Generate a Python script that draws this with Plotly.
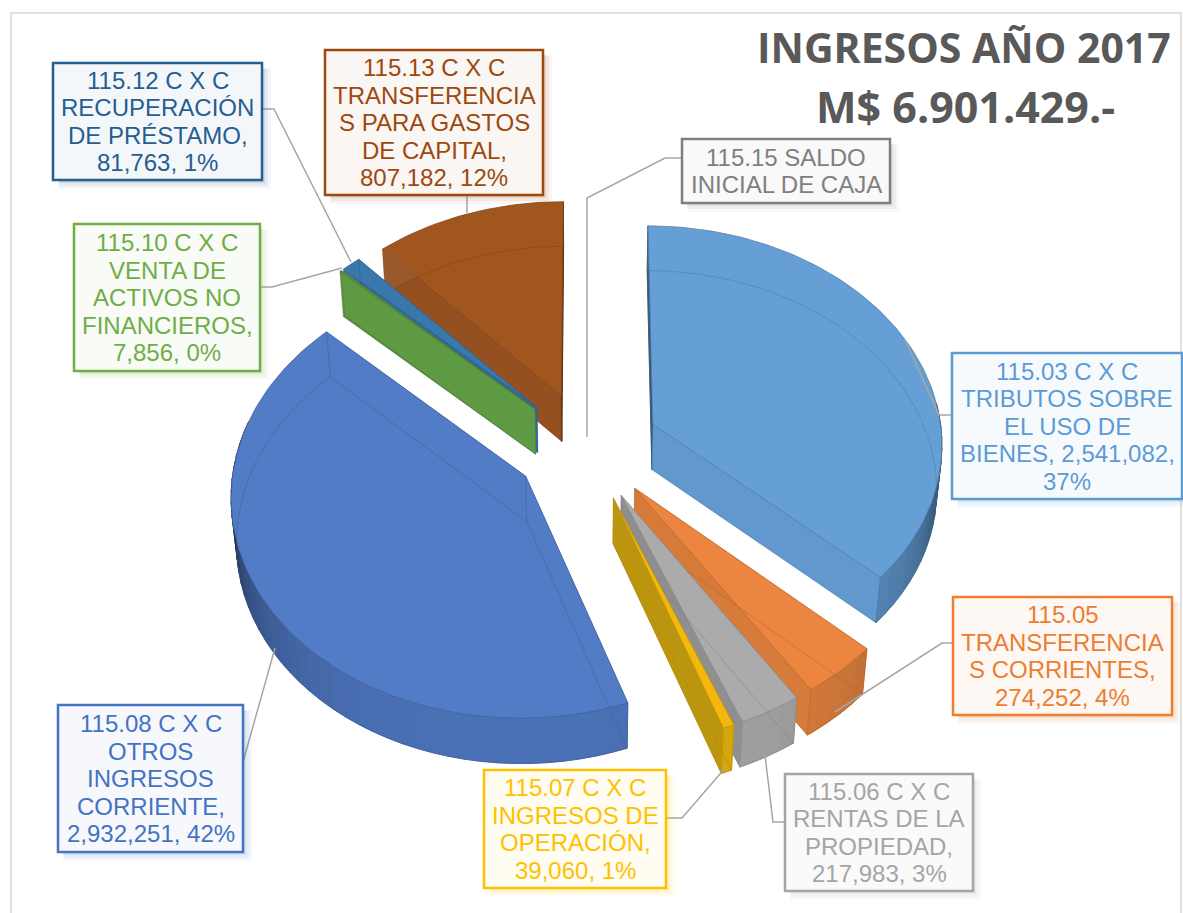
import math
import plotly.graph_objects as go

# ---- data ----
codes = ["115.03", "115.05", "115.06", "115.07", "115.08", "115.10", "115.12", "115.13", "115.15"]
values = [2541082, 274252, 217983, 39060, 2932251, 7856, 81763, 807182, 0]
label_lines = [
    ["115.03 C X C", "TRIBUTOS SOBRE", "EL USO DE", "BIENES, {v},", "{p}"],
    ["115.05", "TRANSFERENCIA", "S CORRIENTES,", "{v}, {p}"],
    ["115.06 C X C", "RENTAS DE LA", "PROPIEDAD,", "{v}, {p}"],
    ["115.07 C X C", "INGRESOS DE", "OPERACIÓN,", "{v}, {p}"],
    ["115.08 C X C", "OTROS", "INGRESOS", "CORRIENTE,", "{v}, {p}"],
    ["115.10 C X C", "VENTA DE", "ACTIVOS NO", "FINANCIEROS,", "{v}, {p}"],
    ["115.12 C X C", "RECUPERACIÓN", "DE PRÉSTAMO,", "{v}, {p}"],
    ["115.13 C X C", "TRANSFERENCIA", "S PARA GASTOS", "DE CAPITAL,", "{v}, {p}"],
    ["115.15 SALDO", "INICIAL DE CAJA"],
]
title_lines = ["INGRESOS AÑO 2017", "M$ 6.901.429.-"]

# ---- style ----
accent = ["#5B9BD5", "#ED7D31", "#A5A5A5", "#FFC000", "#4472C4", "#70AD47", "#255E91", "#9E480E", "#7F7F7F"]
top_col = ["#669FD6", "#EB853F", "#ABABAB", "#F3B80D", "#527CC6", "#62993F", "#3A78AC", "#A2561F", "#7F7F7F"]
cut_col = ["#6298CC", "#D67A3A", "#8E8E8E", "#BC960F", "#4B72B8", "#5F9A45", "#2F6A9E", "#9A5222", "#7F7F7F"]
wall_col = ["#5E93C8", "#D87C3C", "#A0A0A0", "#D9A60C", "#4A70B5", "#5F9A45", "#2F6A9E", "#9A5222", "#7F7F7F"]
boxes = [(952, 353, 1182, 499), (953, 597, 1172, 715), (785, 774, 973, 891), (484, 770, 666, 888),
         (58, 705, 243, 852), (74, 224, 260, 371), (53, 63, 262, 180), (325, 50, 543, 195), (682, 139, 890, 203)]
leaders = [
    [(952, 415), (939, 415), (905, 340)],
    [(953, 643), (942, 643), (835, 712)],
    [(785, 822), (773, 822), (765, 755)],
    [(666, 818), (682, 818), (726, 767)],
    [(243, 762), (275, 648)],
    [(260, 287), (272, 287), (342, 268)],
    [(262, 109), (274, 109), (351, 262)],
    [(467, 195), (467, 213)],
    [(682, 158), (665, 158), (587, 198), (587, 437)],
]
paint_order = [7, 6, 5, 4, 0, 1, 2, 3]

CX, CY, FX, FY, K, M, DEPTH, EXPLODE = 587, 446, 290, 217.6, 0.08, 0.015, 46, 0.25
FONT = "Liberation Sans"
FS = 24
PITCH = 27.5


def proj(X, Y, z):
    w = 1 - K * Y + M * z
    return CX + FX * X / w, CY + (FY * Y + DEPTH * z) / w


def rgb(h):
    return int(h[1:3], 16), int(h[3:5], 16), int(h[5:7], 16)


def shade(h, f, a=1.0):
    r, g, b = rgb(h)
    return f"rgba({r*f:.0f},{g*f:.0f},{b*f:.0f},{a})"


total = sum(values)
fig = go.Figure()


def poly(pts, fill, line=None, lw=1.0):
    fig.add_trace(go.Scatter(
        x=[p[0] for p in pts] + [pts[0][0]], y=[p[1] for p in pts] + [pts[0][1]],
        mode="lines", fill="toself", fillcolor=fill,
        line=dict(color=line or "rgba(0,0,0,0)", width=lw),
        hoverinfo="skip", showlegend=False))


def polyline(pts, color, lw=1.0):
    fig.add_trace(go.Scatter(
        x=[p[0] for p in pts], y=[p[1] for p in pts], mode="lines",
        line=dict(color=color, width=lw), hoverinfo="skip", showlegend=False))


# frame
polyline([(11, 913), (11, 13), (1181, 13), (1181, 913)], "#D9D9D9", 1.5)

# cumulative angles, clockwise from 12 o'clock
starts, ends, acc = [], [], 0
for v in values:
    starts.append(acc / total * 360)
    acc += v
    ends.append(acc / total * 360)


def slice_geo(i):
    a0, a1 = math.radians(starts[i]), math.radians(ends[i])
    mid = (a0 + a1) / 2
    ox, oy = EXPLODE * math.sin(mid), -EXPLODE * math.cos(mid)
    n = max(2, int((ends[i] - starts[i]) / 1.5) + 1)
    ang = [a0 + (a1 - a0) * j / (n - 1) for j in range(n)]
    return ox, oy, ang


for i in paint_order:
    ox, oy, ang = slice_geo(i)
    ap_t, ap_b = proj(ox, oy, 0), proj(ox, oy, 1)
    arc_t = [proj(ox + math.sin(a), oy - math.cos(a), 0) for a in ang]
    arc_b = [proj(ox + math.sin(a), oy - math.cos(a), 1) for a in ang]
    # bottom face and the two cut walls; a wall lying along 12 o'clock is seen edge-on and dark
    poly([ap_b] + arc_b, shade(cut_col[i], 1.0, 0.95))
    f0 = 0.55 if starts[i] < 1 else 0.97
    f1 = 0.55 if ends[i] > 359 else 1.0
    poly([ap_t, arc_t[0], arc_b[0], ap_b], shade(cut_col[i], f0, 0.95), shade(cut_col[i], f0, 0.95) if f0 < 0.9 else None)
    poly([ap_t, arc_t[-1], arc_b[-1], ap_b], shade(cut_col[i], f1, 0.95), shade(cut_col[i], f1, 0.95) if f1 < 0.9 else None)
    # outer wall, shaded by angle
    step = 2
    for j in range(0, len(ang) - 1, step):
        k = min(j + step, len(ang) - 1)
        deg = math.degrees((ang[j] + ang[k]) / 2)
        if not 85 <= deg <= 285:
            continue
        t = min(abs(deg - 180) / 90, 1.1)
        f = 1 - 0.7 * t ** 3
        c = shade(wall_col[i], f)
        poly(arc_t[j:k + 1] + arc_b[j:k + 1][::-1], c, c, 1.0)
    # top face
    poly([ap_t] + arc_t, top_col[i], shade(top_col[i], 0.8, 0.8), 1.0)
    # hidden edges seen through the translucent pieces
    ghost = shade(top_col[i], 0.7, 0.4)
    polyline(arc_b, ghost)
    polyline([arc_b[0], ap_b, arc_b[-1]], ghost)
    polyline([ap_t, ap_b], ghost)
    polyline([arc_t[0], arc_b[0]], ghost)
    polyline([arc_t[-1], arc_b[-1]], ghost)

# leader lines
for pts in leaders:
    polyline(pts, "#A6A6A6", 1.5)

# label boxes
shapes, annotations = [], []
for i, (x0, y0, x1, y1) in enumerate(boxes):
    r, g, b = rgb(accent[i])
    for off, grow, a in [(7, 2, 0.05), (6, 0, 0.08), (4, -1, 0.12)]:
        shapes.append(dict(type="rect", xref="x", yref="y", x0=x0 + off - grow, y0=y0 + off - grow,
                           x1=x1 + off + grow, y1=y1 + off + grow, line=dict(width=0),
                           fillcolor=f"rgba({r},{g},{b},{a})"))
    fill = f"rgb({255-(255-r)*0.05:.0f},{255-(255-g)*0.05:.0f},{255-(255-b)*0.05:.0f})"
    shapes.append(dict(type="rect", xref="x", yref="y", x0=x0, y0=y0, x1=x1, y1=y1,
                       line=dict(color=accent[i], width=2.5), fillcolor=fill))
    pct = f"{values[i] / total * 100:.0f}%"
    lines = [s.format(v=f"{values[i]:,}", p=pct) for s in label_lines[i]]
    first = (y0 + y1) / 2 - PITCH * (len(lines) - 1) / 2
    for n, s in enumerate(lines):
        annotations.append(dict(x=(x0 + x1) / 2, y=first + n * PITCH, xref="x", yref="y", text=s,
                                showarrow=False, xanchor="center", yanchor="middle",
                                font=dict(family=FONT, size=FS, color=accent[i])))

for s, (tx, ty, sz) in zip(title_lines, [(964, 47, 41), (965, 106, 43)]):
    annotations.append(dict(x=tx, y=ty, xref="x", yref="y", text=f"<b>{s}</b>", showarrow=False,
                            xanchor="center", yanchor="middle",
                            font=dict(family="Open Sans", size=sz, color="#595959")))

fig.update_layout(
    width=1183, height=913, autosize=False, margin=dict(l=0, r=0, t=0, b=0),
    paper_bgcolor="white", plot_bgcolor="white", showlegend=False,
    xaxis=dict(range=[0, 1183], visible=False, fixedrange=True),
    yaxis=dict(range=[913, 0], visible=False, fixedrange=True),
    shapes=shapes, annotations=annotations,
)
fig.write_html("out.html", config=dict(displayModeBar=False),
               post_script="document.body.style.margin='0';document.body.style.overflow='hidden';")
